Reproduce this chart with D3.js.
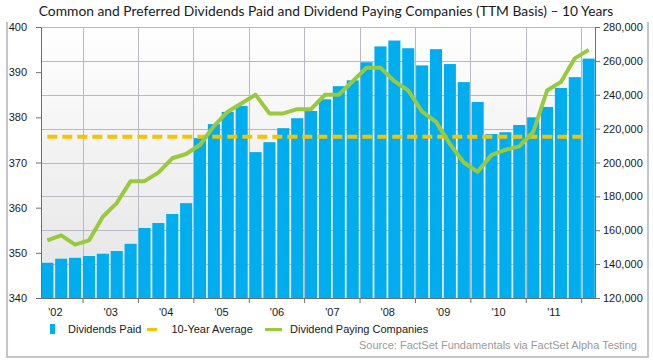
<!DOCTYPE html>
<html>
<head>
<meta charset="utf-8">
<script src="https://cdn.jsdelivr.net/npm/d3@7"></script>
<style>
  body { margin: 0; background: #fff; }
  svg { display: block; font-family: "Liberation Sans", Arial, sans-serif; }
</style>
</head>
<body>
<svg id="chart" width="653" height="361"></svg>
<script>
// quarterly TTM values, 2002 Q2 .. 2012 Q1
var quarters = ["2002Q2","2002Q3","2002Q4","2003Q1","2003Q2","2003Q3","2003Q4","2004Q1","2004Q2","2004Q3",
  "2004Q4","2005Q1","2005Q2","2005Q3","2005Q4","2006Q1","2006Q2","2006Q3","2006Q4","2007Q1",
  "2007Q2","2007Q3","2007Q4","2008Q1","2008Q2","2008Q3","2008Q4","2009Q1","2009Q2","2009Q3",
  "2009Q4","2010Q1","2010Q2","2010Q3","2010Q4","2011Q1","2011Q2","2011Q3","2011Q4","2012Q1"];

var dividendsPaid = [347.8, 348.7, 348.9, 349.3, 349.8, 350.4, 352.0, 355.5, 356.6, 358.6,
  361.0, 375.4, 378.5, 381.2, 382.5, 372.3, 374.5, 377.6, 379.8, 381.4,
  384.0, 386.9, 388.2, 392.2, 395.7, 397.0, 395.3, 391.5, 395.1, 391.8,
  387.8, 383.4, 376.3, 376.7, 378.3, 380.0, 382.3, 386.5, 388.9, 393.0];

var payingCompanies = [154000, 157000, 151500, 154000, 168000, 176000, 189000, 189000, 194000, 202500,
  205000, 210500, 221500, 230000, 235000, 240000, 229000, 229000, 231500, 231500,
  240000, 240000, 248000, 256000, 256000, 248000, 242500, 230000, 224000, 211000,
  200000, 194500, 204500, 207500, 209500, 218000, 242500, 247500, 261500, 266500];

var tenYearAverage = 375.7;

var years = [2002, 2003, 2004, 2005, 2006, 2007, 2008, 2009, 2010, 2011];
var yearLabels = ["'02", "'03", "'04", "'05", "'06", "'07", "'08", "'09", "'10", "'11"];
var yearBreaks = [2003, 2004, 2005, 2006, 2007, 2008, 2009, 2010, 2011, 2012];
var leftTicks = [340, 350, 360, 370, 380, 390, 400];
var rightTicks = [120000, 140000, 160000, 180000, 200000, 220000, 240000, 260000, 280000];

var svg = d3.select("#chart");
var plot = {left: 41, right: 595, top: 27, bottom: 298};

var x = d3.scaleBand().domain(quarters).range([plot.left, plot.right])
  .paddingInner(0.13).paddingOuter(0.02);
// continuous time scale for the year ticks (first bar = 2002 Q2)
var xYear = d3.scaleLinear().domain([2002.25, 2012.25]).range([plot.left, plot.right]);
var yLeft = d3.scaleLinear().domain([340, 400]).range([plot.bottom, plot.top]);
var yRight = d3.scaleLinear().domain([120000, 280000]).range([plot.bottom, plot.top]);

// frame
svg.append("path")
  .attr("d", "M7,22V357H648V22")
  .attr("fill", "none").attr("stroke", "#c4c4cc").attr("stroke-width", 2);

// title
var title = svg.append("text")
  .attr("x", 326).attr("y", 16)
  .attr("text-anchor", "middle")
  .style("font-family", "Lato, 'Open Sans', sans-serif")
  .style("font-size", "14px")
  .attr("fill", "#1a1a1a")
  .text("Common and Preferred Dividends Paid and Dividend Paying Companies (TTM Basis) \u2013 10 Years");
var tw = title.node().getComputedTextLength();
title.style("font-size", (14 * 575 / tw).toFixed(2) + "px");

// plot background gradient
var grad = svg.append("defs").append("linearGradient")
  .attr("id", "bg").attr("x1", 0).attr("y1", 0).attr("x2", 0).attr("y2", 1);
grad.append("stop").attr("offset", "0%").attr("stop-color", "#ffffff");
grad.append("stop").attr("offset", "100%").attr("stop-color", "#e4e4e4");
svg.append("rect")
  .attr("x", plot.left).attr("y", plot.top)
  .attr("width", plot.right - plot.left).attr("height", plot.bottom - plot.top)
  .attr("fill", "url(#bg)");

// gridlines
svg.append("g").selectAll("line").data(rightTicks).enter().append("line")
  .attr("x1", plot.left).attr("x2", plot.right)
  .attr("y1", function(d) {return Math.round(yRight(d)) + 0.5;})
  .attr("y2", function(d) {return Math.round(yRight(d)) + 0.5;})
  .attr("stroke", "#b9b9c4").attr("stroke-width", 1);
svg.append("g").selectAll("line").data(yearBreaks.slice(0, -1)).enter().append("line")
  .attr("x1", function(d) {return Math.round(xYear(d)) + 0.5;})
  .attr("x2", function(d) {return Math.round(xYear(d)) + 0.5;})
  .attr("y1", plot.top).attr("y2", plot.bottom)
  .attr("stroke", "#b9b9c4").attr("stroke-width", 1);
svg.append("line")
  .attr("x1", Math.round(xYear(2012)) + 0.5).attr("x2", Math.round(xYear(2012)) + 0.5)
  .attr("y1", plot.top).attr("y2", plot.bottom)
  .attr("stroke", "#b9b9c4").attr("stroke-width", 1);

// bars
svg.append("g").selectAll("rect").data(dividendsPaid).enter().append("rect")
  .attr("x", function(d, i) {return x(quarters[i]);})
  .attr("width", x.bandwidth())
  .attr("y", function(d) {return yLeft(d);})
  .attr("height", function(d) {return plot.bottom - yLeft(d);})
  .attr("fill", "#00aeef");

// 10-year average
svg.append("line")
  .attr("x1", x(quarters[0]) + x.bandwidth() / 2)
  .attr("x2", x(quarters[quarters.length - 1]) + x.bandwidth() / 2 - 6)
  .attr("y1", yLeft(tenYearAverage)).attr("y2", yLeft(tenYearAverage))
  .attr("stroke", "#f5c400").attr("stroke-width", 4)
  .attr("stroke-dasharray", "10,5");

// dividend paying companies
var line = d3.line()
  .x(function(d, i) {return x(quarters[i]) + x.bandwidth() / 2;})
  .y(function(d) {return yRight(d);});
svg.append("path")
  .datum(payingCompanies)
  .attr("d", line)
  .attr("fill", "none")
  .attr("stroke", "#99c93c").attr("stroke-width", 4)
  .attr("stroke-linejoin", "round");

// axes
function styleAxis(g) {
  g.selectAll(".domain, line").attr("stroke", "#6f6f6f");
  g.selectAll("text").attr("fill", "#1a1a1a").style("font-size", "11px")
    .style("font-family", "'Liberation Sans', Arial, sans-serif");
}

svg.append("g")
  .attr("transform", "translate(" + plot.left + ",0)")
  .call(d3.axisLeft(yLeft).tickValues(leftTicks).tickSize(5).tickPadding(9).tickSizeOuter(0))
  .call(styleAxis);

svg.append("g")
  .attr("transform", "translate(" + plot.right + ",0)")
  .call(d3.axisRight(yRight).tickValues(rightTicks).tickSize(5).tickPadding(3).tickSizeOuter(0)
    .tickFormat(d3.format(",")))
  .call(styleAxis);

svg.append("g")
  .attr("transform", "translate(0," + plot.bottom + ")")
  .call(d3.axisBottom(xYear).tickValues(yearBreaks).tickSize(5).tickSizeOuter(0).tickFormat(""))
  .call(styleAxis);

svg.append("g")
  .attr("transform", "translate(0," + plot.bottom + ")")
  .call(d3.axisBottom(xYear).tickValues(years.map(function(y) {return y + 0.5;}))
    .tickSize(0).tickPadding(10)
    .tickFormat(function(d, i) {return yearLabels[i];}))
  .call(styleAxis)
  .call(function(g) {g.select(".domain").remove();});

// legend
var legend = svg.append("g").style("font-size", "11px").attr("fill", "#1a1a1a");
legend.append("rect").attr("x", 50).attr("y", 324).attr("width", 5).attr("height", 10).attr("fill", "#00aeef");
legend.append("text").attr("x", 68).attr("y", 333).text("Dividends Paid");
legend.append("rect").attr("x", 147).attr("y", 328).attr("width", 10).attr("height", 3).attr("fill", "#f5c400");
legend.append("text").attr("x", 171.5).attr("y", 333).text("10-Year Average");
legend.append("rect").attr("x", 265).attr("y", 328).attr("width", 17).attr("height", 3).attr("fill", "#99c93c");
legend.append("text").attr("x", 290).attr("y", 333).text("Dividend Paying Companies");

svg.append("text")
  .attr("x", 637).attr("y", 349)
  .attr("text-anchor", "end")
  .style("font-size", "11px")
  .attr("fill", "#9a9a9a")
  .text("Source: FactSet Fundamentals via FactSet Alpha Testing");
</script>
</body>
</html>
